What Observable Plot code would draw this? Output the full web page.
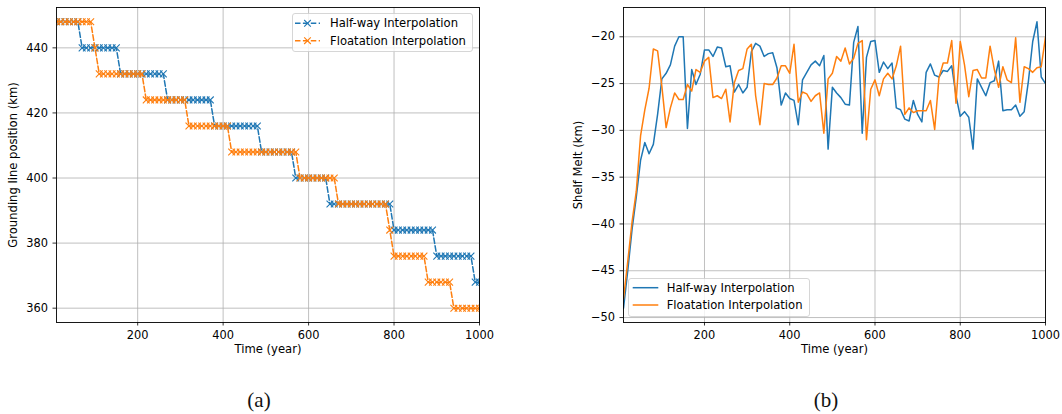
<!DOCTYPE html>
<html>
<head>
<meta charset="utf-8">
<script src="https://cdn.jsdelivr.net/npm/d3@7"></script>
<script src="https://cdn.jsdelivr.net/npm/@observablehq/plot@0.6"></script>
<style>
  body { margin: 0; background: #fff; }
  #fig { position: relative; width: 1062px; height: 414px; font-family: "DejaVu Sans", sans-serif; }
  .panel { position: absolute; top: 0; }
  .legend { position: absolute; overflow: visible; }
  .cap { position: absolute; font-family: "Liberation Serif", serif; font-size: 21px; transform: translate(-50%, -50%); color: #111; }
</style>
</head>
<body>
<div id="fig"></div>
<script>
// Model output every 10 years
const years = [
  10, 20, 30, 40, 50, 60, 70, 80, 90, 100,
  110, 120, 130, 140, 150, 160, 170, 180, 190, 200,
  210, 220, 230, 240, 250, 260, 270, 280, 290, 300,
  310, 320, 330, 340, 350, 360, 370, 380, 390, 400,
  410, 420, 430, 440, 450, 460, 470, 480, 490, 500,
  510, 520, 530, 540, 550, 560, 570, 580, 590, 600,
  610, 620, 630, 640, 650, 660, 670, 680, 690, 700,
  710, 720, 730, 740, 750, 760, 770, 780, 790, 800,
  810, 820, 830, 840, 850, 860, 870, 880, 890, 900,
  910, 920, 930, 940, 950, 960, 970, 980, 990, 1000
];

const seriesNames = ["Half-way Interpolation", "Floatation Interpolation"];
const seriesColors = ["#1f77b4", "#ff7f0e"];

// (a) grounding line position (km)
const groundingHalfway = [
  448, 448, 448, 448, 448, 448, 440, 440, 440, 440,
  440, 440, 440, 440, 440, 432, 432, 432, 432, 432,
  432, 432, 432, 432, 432, 432, 424, 424, 424, 424,
  424, 424, 424, 424, 424, 424, 424, 416, 416, 416,
  416, 416, 416, 416, 416, 416, 416, 416, 408, 408,
  408, 408, 408, 408, 408, 408, 400, 400, 400, 400,
  400, 400, 400, 400, 392, 392, 392, 392, 392, 392,
  392, 392, 392, 392, 392, 392, 392, 392, 392, 384,
  384, 384, 384, 384, 384, 384, 384, 384, 384, 376,
  376, 376, 376, 376, 376, 376, 376, 376, 368, 368
];
const groundingFloatation = [
  448, 448, 448, 448, 448, 448, 448, 448, 448, 440,
  432, 432, 432, 432, 432, 432, 432, 432, 432, 432,
  432, 424, 424, 424, 424, 424, 424, 424, 424, 424,
  424, 416, 416, 416, 416, 416, 416, 416, 416, 416,
  416, 408, 408, 408, 408, 408, 408, 408, 408, 408,
  408, 408, 408, 408, 408, 408, 408, 400, 400, 400,
  400, 400, 400, 400, 400, 400, 392, 392, 392, 392,
  392, 392, 392, 392, 392, 392, 392, 392, 384, 376,
  376, 376, 376, 376, 376, 376, 376, 368, 368, 368,
  368, 368, 368, 360, 360, 360, 360, 360, 360, 360
];

// (b) shelf melt (km)
const meltHalfway = [
  -49.0, -45.0, -40.6, -37.1, -33.2, -31.3, -32.5, -31.5, -28.3, -24.5,
  -23.9, -23.0, -21.0, -20.0, -20.0, -29.8, -23.5, -25.1, -24.0, -21.4,
  -21.4, -22.1, -21.1, -21.2, -23.2, -23.1, -25.9, -25.1, -26.0, -25.4,
  -21.6, -20.7, -21.0, -22.1, -21.8, -21.7, -23.3, -27.3, -26.0, -26.6,
  -26.8, -29.4, -24.6, -23.8, -23.0, -22.6, -23.1, -22.0, -32.0, -25.4,
  -26.0, -26.5, -27.2, -27.3, -20.6, -18.9, -30.3, -22.2, -20.5, -20.4,
  -23.8, -22.7, -23.4, -22.8, -27.6, -27.8, -28.8, -29.0, -26.8, -28.3,
  -29.1, -23.8, -22.9, -24.1, -24.3, -23.6, -23.7, -23.1, -26.3, -28.5,
  -28.0, -28.6, -32.0, -24.5, -25.4, -26.3, -24.9, -24.7, -22.6, -27.9,
  -27.8, -27.8, -27.3, -28.5, -28.0, -24.7, -20.5, -18.4, -24.3, -25.0
];
const meltFloatation = [
  -48.0, -44.0, -39.8, -36.5, -30.6, -27.8, -25.5, -21.3, -21.5, -25.3,
  -29.7, -27.6, -26.0, -26.7, -26.7, -25.1, -25.8, -23.5, -23.8, -22.6,
  -22.2, -26.5, -26.3, -26.6, -25.6, -29.1, -24.9, -23.6, -23.4, -21.3,
  -20.8, -26.3, -29.4, -25.0, -25.1, -25.1, -24.4, -23.1, -23.1, -23.9,
  -20.8, -27.0, -25.9, -26.1, -26.9, -26.3, -26.0, -30.3, -24.5, -23.9,
  -22.1, -22.6, -21.2, -22.9, -22.3, -20.7, -20.4, -31.0, -25.6, -24.6,
  -26.3, -24.5, -23.9, -24.5, -23.1, -21.0, -28.3, -27.6, -28.1, -27.9,
  -27.9, -27.9, -26.8, -29.9, -24.4, -22.8, -22.8, -20.4, -27.1, -20.5,
  -23.0, -26.4, -23.6, -23.5, -24.4, -24.4, -21.0, -23.5, -25.4, -23.2,
  -24.6, -24.9, -20.1, -27.0, -23.2, -23.4, -23.8, -23.3, -23.2, -20.0
];

const xTicks = [200, 400, 600, 800, 1000];
const yTicksA = [360, 380, 400, 420, 440];
const yTicksB = [-50, -45, -40, -35, -30, -25, -20];
const xLabel = "Time (year)";
const yLabelA = "Grounding line position (km)";
const yLabelB = "Shelf Melt (km)";
const captions = ["(a)", "(b)"];

// y domain padded by 5% of the data range on each side
function padded(...arrays) {
  const all = arrays.flat();
  const [lo, hi] = d3.extent(all);
  const p = (hi - lo) * 0.05;
  return [lo - p, hi + p];
}

const fig = document.getElementById("fig");
const fmt = d3.format("d");
const gridStyle = {stroke: "#b0b0b0", strokeOpacity: 1, strokeWidth: 0.8};
const axisStyle = {tickSize: 3.5, tickPadding: 5, label: null, strokeWidth: 0.8, fontSize: 11.4};

function basePlot({width, marginLeft, marginRight, yDomain, yTicks, yLabel, yLabelDx, marks}) {
  return Plot.plot({
    width, height: 365,
    marginLeft, marginRight, marginTop: 7, marginBottom: 43,
    style: {fontFamily: "DejaVu Sans, sans-serif", fontSize: "11.4px", color: "#000", background: "transparent", overflow: "visible"},
    x: {domain: [10, 1000]},
    y: {domain: yDomain},
    marks: [
      Plot.gridX(xTicks, gridStyle),
      Plot.gridY(yTicks, gridStyle),
      ...marks,
      Plot.frame({stroke: "#000", strokeWidth: 0.9}),
      Plot.axisX(xTicks, {...axisStyle, tickFormat: fmt}),
      Plot.axisY(yTicks, {...axisStyle, tickFormat: fmt}),
      Plot.text([xLabel], {frameAnchor: "bottom", dy: 30, fontSize: 11.6, fill: "#000", textAnchor: "middle"}),
      Plot.text([yLabel], {frameAnchor: "left", dx: yLabelDx, rotate: -90, fontSize: 11.6, fill: "#000", textAnchor: "middle"})
    ]
  });
}

// Panel (a): dashed step lines with x markers
const plotA = basePlot({
  width: 531, marginLeft: 56, marginRight: 52,
  yDomain: padded(groundingHalfway, groundingFloatation),
  yTicks: yTicksA, yLabel: yLabelA, yLabelDx: -43,
  marks: [groundingHalfway, groundingFloatation].flatMap((vals, i) => [
    Plot.line(vals, {x: years, y: vals, stroke: seriesColors[i], strokeWidth: 1.5, strokeDasharray: "5.5,2.4", clip: true}),
    Plot.dot(vals, {x: years, y: vals, symbol: "times", r: 3.2, stroke: seriesColors[i], strokeWidth: 1.1, clip: true})
  ])
});
plotA.classList.add("panel");
plotA.style.left = "0px";
fig.appendChild(plotA);

// Panel (b): solid lines
const plotB = basePlot({
  width: 531, marginLeft: 92, marginRight: 17,
  yDomain: padded(meltHalfway, meltFloatation),
  yTicks: yTicksB, yLabel: yLabelB, yLabelDx: -45,
  marks: [meltHalfway, meltFloatation].map((vals, i) =>
    Plot.line(vals, {x: years, y: vals, stroke: seriesColors[i], strokeWidth: 1.5, clip: true})
  )
});
plotB.classList.add("panel");
plotB.style.left = "531px";
fig.appendChild(plotB);

// Legends drawn over the axes
function addLegend(left, top, w, h, rows, lineX0, lineX1, textX, withMarker) {
  const svg = d3.select(fig).append("svg")
    .attr("class", "legend")
    .style("left", left + "px").style("top", top + "px")
    .attr("width", w + 2).attr("height", h + 2)
    .style("font-family", "DejaVu Sans, sans-serif").style("font-size", "11.6px");
  svg.append("rect").attr("x", 0.5).attr("y", 0.5).attr("width", w).attr("height", h)
    .attr("rx", 2.5).attr("fill", "#fff").attr("fill-opacity", 0.8)
    .attr("stroke", "#cccccc").attr("stroke-width", 0.8);
  seriesNames.forEach((name, i) => {
    const y = rows[i];
    svg.append("line").attr("x1", lineX0).attr("x2", lineX1).attr("y1", y).attr("y2", y)
      .attr("stroke", seriesColors[i]).attr("stroke-width", 1.5)
      .attr("stroke-dasharray", withMarker ? "5.5,2.4" : null);
    if (withMarker) {
      const cx = (lineX0 + lineX1) / 2, s = 3.3;
      svg.append("path").attr("d", `M${cx - s},${y - s}L${cx + s},${y + s}M${cx - s},${y + s}L${cx + s},${y - s}`)
        .attr("stroke", seriesColors[i]).attr("stroke-width", 1.1).attr("fill", "none");
    }
    svg.append("text").attr("x", textX).attr("y", y).attr("dy", "0.35em").attr("fill", "#000").text(name);
  });
}
addLegend(292, 13, 180, 38, [10.3, 27.7], 3, 28, 38, true);
addLegend(628, 278, 181, 38, [9.7, 27], 4.7, 30.3, 38.7, false);

// Sub-figure captions
[[259, captions[0]], [826, captions[1]]].forEach(([x, t]) => {
  const d = document.createElement("div");
  d.className = "cap";
  d.style.left = x + "px";
  d.style.top = "400px";
  d.textContent = t;
  fig.appendChild(d);
});
</script>
</body>
</html>
